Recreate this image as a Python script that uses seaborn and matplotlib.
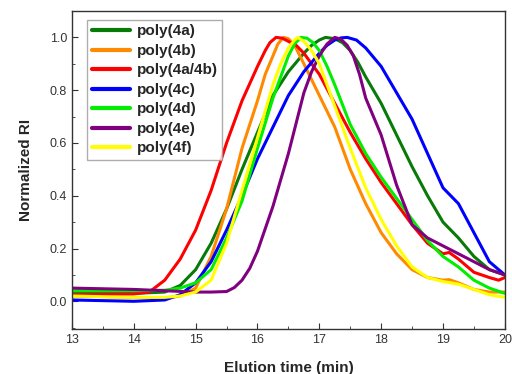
import pandas as pd
import seaborn as sns
import matplotlib
matplotlib.use("Agg")
import matplotlib.pyplot as plt
from matplotlib.ticker import MultipleLocator

# === GPC traces (elution time in min, normalized RI) ===
t_4a = [13, 14, 14.5, 14.75, 15, 15.25, 15.5, 15.75, 16, 16.25, 16.5, 16.625, 16.75, 16.875, 17, 17.1, 17.25, 17.375, 17.5, 17.625, 17.75, 18, 18.25, 18.5, 18.75, 19, 19.25, 19.5, 19.75, 20]
ri_4a = [0.035, 0.03, 0.035, 0.06, 0.12, 0.22, 0.35, 0.5, 0.64, 0.78, 0.87, 0.905, 0.94, 0.97, 0.99, 1.0, 0.995, 0.98, 0.95, 0.905, 0.85, 0.75, 0.63, 0.51, 0.4, 0.3, 0.24, 0.17, 0.12, 0.1]

t_4b = [13, 14, 14.5, 14.75, 15, 15.25, 15.5, 15.75, 16, 16.125, 16.25, 16.33, 16.42, 16.5, 16.6, 16.75, 17, 17.25, 17.5, 17.75, 18, 18.25, 18.5, 18.75, 19, 19.1, 19.25, 19.5, 19.75, 20]
ri_4b = [0.02, 0.015, 0.012, 0.02, 0.05, 0.17, 0.35, 0.58, 0.76, 0.86, 0.93, 0.975, 1.0, 0.995, 0.97, 0.9, 0.78, 0.66, 0.5, 0.37, 0.26, 0.18, 0.12, 0.09, 0.08, 0.082, 0.07, 0.045, 0.035, 0.035]

t_4ab = [13, 14, 14.25, 14.5, 14.75, 15, 15.25, 15.5, 15.75, 16, 16.125, 16.2, 16.3, 16.4, 16.5, 16.625, 16.75, 17, 17.25, 17.5, 17.75, 18, 18.25, 18.5, 18.75, 19, 19.1, 19.25, 19.5, 19.75, 19.9, 20]
ri_4ab = [0.025, 0.028, 0.035, 0.08, 0.16, 0.27, 0.42, 0.6, 0.76, 0.89, 0.95, 0.98, 1.0, 0.997, 0.985, 0.97, 0.94, 0.86, 0.75, 0.64, 0.54, 0.45, 0.37, 0.29, 0.22, 0.18, 0.185, 0.16, 0.11, 0.09, 0.08, 0.09]

t_4c = [13, 14, 14.5, 14.75, 15, 15.25, 15.5, 15.75, 16, 16.25, 16.5, 16.75, 17, 17.125, 17.25, 17.35, 17.45, 17.6, 17.75, 18, 18.25, 18.5, 18.75, 19, 19.25, 19.5, 19.75, 20]
ri_4c = [0.005, 0.0, 0.005, 0.025, 0.07, 0.15, 0.27, 0.4, 0.54, 0.66, 0.78, 0.87, 0.94, 0.97, 0.99, 0.998, 1.0, 0.99, 0.96, 0.89, 0.79, 0.69, 0.56, 0.43, 0.37, 0.26, 0.15, 0.1]

t_4d = [13, 14, 14.5, 14.75, 15, 15.25, 15.5, 15.75, 16, 16.25, 16.5, 16.6, 16.7, 16.8, 16.9, 17, 17.125, 17.25, 17.5, 17.75, 18, 18.25, 18.5, 18.75, 19, 19.25, 19.5, 19.75, 20]
ri_4d = [0.04, 0.04, 0.042, 0.05, 0.07, 0.12, 0.24, 0.38, 0.58, 0.77, 0.93, 0.975, 1.0, 0.997, 0.98, 0.95, 0.89, 0.82, 0.67, 0.56, 0.47, 0.39, 0.31, 0.23, 0.17, 0.13, 0.08, 0.05, 0.03]

t_4e = [13, 14, 14.5, 15, 15.25, 15.5, 15.625, 15.75, 15.875, 16, 16.25, 16.5, 16.75, 16.875, 17, 17.125, 17.25, 17.35, 17.45, 17.55, 17.65, 17.75, 17.875, 18, 18.25, 18.5, 18.75, 19, 19.25, 19.5, 19.75, 20]
ri_4e = [0.05, 0.045, 0.04, 0.035, 0.035, 0.037, 0.052, 0.08, 0.125, 0.19, 0.36, 0.56, 0.79, 0.87, 0.93, 0.975, 1.0, 0.993, 0.97, 0.93, 0.86, 0.77, 0.7, 0.63, 0.44, 0.29, 0.24, 0.21, 0.18, 0.15, 0.12, 0.1]

t_4f = [13, 14, 14.5, 14.75, 15, 15.25, 15.5, 15.75, 16, 16.25, 16.375, 16.5, 16.6, 16.65, 16.75, 16.875, 17, 17.25, 17.5, 17.75, 18, 18.25, 18.5, 18.75, 19, 19.25, 19.5, 19.75, 20]
ri_4f = [0.02, 0.015, 0.015, 0.02, 0.035, 0.08, 0.22, 0.42, 0.62, 0.82, 0.9, 0.96, 0.99, 1.0, 0.985, 0.95, 0.9, 0.74, 0.58, 0.43, 0.31, 0.21, 0.13, 0.09, 0.075, 0.065, 0.045, 0.025, 0.015]

labels = ["poly(4a)", "poly(4b)", "poly(4a/4b)", "poly(4c)", "poly(4d)", "poly(4e)", "poly(4f)"]
colors = ["#087a08", "#ff8a00", "#ff0000", "#0000ff", "#00ee00", "#800080", "#ffff00"]
traces = [(t_4a, ri_4a), (t_4b, ri_4b), (t_4ab, ri_4ab), (t_4c, ri_4c),
          (t_4d, ri_4d), (t_4e, ri_4e), (t_4f, ri_4f)]

# long-form table for seaborn
frames = []
for lab, (t, ri) in zip(labels, traces):
    frames.append(pd.DataFrame({"time": t, "RI": ri, "sample": lab}))
df = pd.concat(frames, ignore_index=True)

sns.set_style("ticks")
plt.rcParams["font.family"] = ["Liberation Sans", "DejaVu Sans"]

fig = plt.figure(figsize=(5.12, 3.74), dpi=100)
ax = fig.add_axes([0.1406, 0.1203, 0.8454, 0.8503])

sns.lineplot(data=df, x="time", y="RI", hue="sample", hue_order=labels,
             palette=dict(zip(labels, colors)), linewidth=2.2, sort=False,
             estimator=None, ax=ax)

ax.set_xlim(13, 20)
ax.set_ylim(-0.105, 1.1)
ax.xaxis.set_major_locator(MultipleLocator(1))
ax.xaxis.set_minor_locator(MultipleLocator(0.5))
ax.yaxis.set_minor_locator(MultipleLocator(0.1))
ax.set_yticks([0.0, 0.2, 0.4, 0.6, 0.8, 1.0])
ax.set_yticklabels(["0.0", "0.2", "0.4", "0.6", "0.8", "1.0"])
ax.tick_params(which="both", direction="in", colors="#333333", labelsize=9)
ax.tick_params(which="major", length=4)
ax.tick_params(which="minor", length=2.5)
for sp in ax.spines.values():
    sp.set_color("#333333")
    sp.set_linewidth(1.0)

ax.set_xlabel("Elution time (min)", fontsize=11, fontweight="bold", labelpad=11)
ax.set_ylabel("Normalized RI", fontsize=11, fontweight="bold", labelpad=12)

leg = ax.legend(loc="upper left", bbox_to_anchor=(0.035, 0.972), borderaxespad=0,
                frameon=True, fancybox=False, edgecolor="#999999", handlelength=2.5,
                handletextpad=0.45, labelspacing=0.36, borderpad=0.3,
                prop={"weight": "bold", "size": 11})
for line in leg.get_lines():
    line.set_linewidth(3)

fig.savefig("out.png", dpi=100)
